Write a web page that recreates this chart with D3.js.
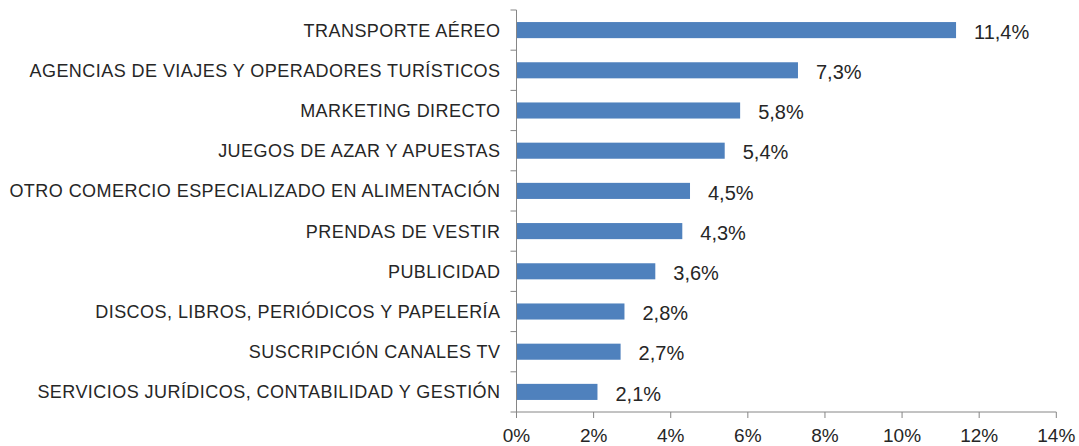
<!DOCTYPE html>
<html><head><meta charset="utf-8">
<script src="https://cdn.jsdelivr.net/npm/d3@7/dist/d3.min.js"></script>
<style>body{margin:0;background:#fff}svg{display:block}text{font-family:"Liberation Sans",Arial,sans-serif;fill:#262626}</style>
</head><body><svg id="c" width="1079" height="446"></svg>
<script>
const categories = ["TRANSPORTE AÉREO","AGENCIAS DE VIAJES Y OPERADORES TURÍSTICOS","MARKETING DIRECTO","JUEGOS DE AZAR Y APUESTAS","OTRO COMERCIO ESPECIALIZADO EN ALIMENTACIÓN","PRENDAS DE VESTIR","PUBLICIDAD","DISCOS, LIBROS, PERIÓDICOS Y PAPELERÍA","SUSCRIPCIÓN CANALES TV","SERVICIOS JURÍDICOS, CONTABILIDAD Y GESTIÓN"];
const values = [11.4,7.3,5.8,5.4,4.5,4.3,3.6,2.8,2.7,2.1];
const xTicks = [0,2,4,6,8,10,12,14];

const svg = d3.select("#c");
const x = d3.scaleLinear().domain([0,14]).range([516.5,1056.3]);
const y = d3.scaleBand().domain(categories).range([10,412]).paddingInner(0.6).paddingOuter(0.3);
const fmt = v => v.toFixed(1).replace(".", ",") + "%";

// bars
svg.selectAll("rect.bar").data(values).join("rect")
  .attr("x", x(0)).attr("y", (d,i)=>y(categories[i]))
  .attr("width", d=>x(d)-x(0)).attr("height", y.bandwidth())
  .attr("fill", "#4f81bd");

// value labels
svg.selectAll("text.val").data(values).join("text")
  .attr("x", d=>x(d)+18).attr("y", (d,i)=>y(categories[i])+y.bandwidth()/2+1.5)
  .attr("dy","0.36em").style("font-size","20px").text(fmt);

// y axis
const yAxisG = svg.append("g").attr("transform",`translate(${x(0)},0)`);
yAxisG.append("line").attr("x1",0).attr("x2",0).attr("y1",10).attr("y2",412).attr("stroke","#868686");
const step = y.step();
const bounds = d3.range(categories.length+1).map(i=>10+i*step);
yAxisG.selectAll("line.t").data(bounds).join("line").attr("x1",-6).attr("x2",0).attr("y1",d=>d).attr("y2",d=>d).attr("stroke","#868686");
yAxisG.selectAll("text").data(categories).join("text")
  .attr("x",-16).attr("y",d=>y(d)+y.bandwidth()/2).attr("dy","0.36em")
  .attr("text-anchor","end").style("font-size","18px").style("letter-spacing","0.45px").text(d=>d);

// x axis
const xAxisG = svg.append("g").attr("transform","translate(0,412)");
xAxisG.append("line").attr("x1",x(0)).attr("x2",x(14)).attr("stroke","#868686");
xAxisG.selectAll("line.t").data(xTicks).join("line").attr("x1",d=>x(d)).attr("x2",d=>x(d)).attr("y1",0).attr("y2",6).attr("stroke","#868686");
xAxisG.selectAll("text").data(xTicks).join("text")
  .attr("x",d=>x(d)).attr("y",30).attr("text-anchor","middle")
  .style("font-size","19px").text(d=>d+"%");
</script></body></html>
